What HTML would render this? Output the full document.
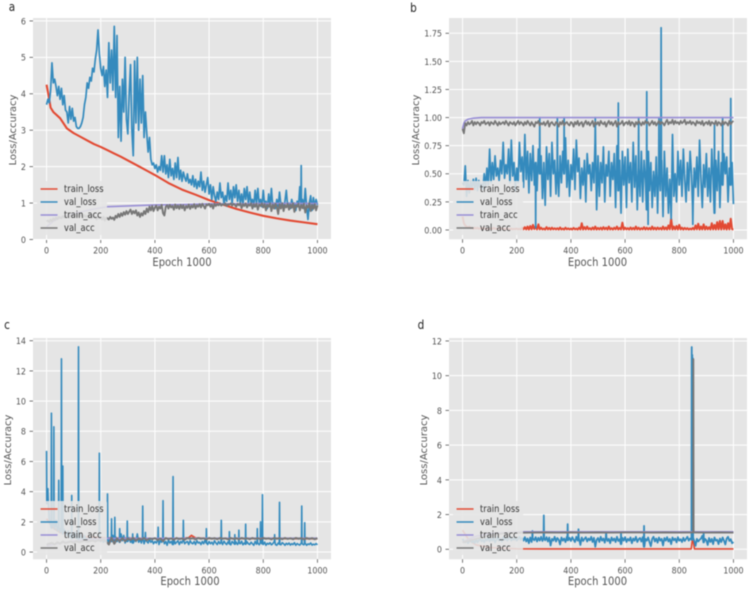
<!DOCTYPE html>
<html>
<head>
<meta charset="utf-8">
<title>Training curves</title>
<style>
html,body{margin:0;padding:0;background:#fff;}
body{width:750px;height:591px;overflow:hidden;}
svg{display:block;filter:blur(0.42px);font-family:"DejaVu Sans","Liberation Sans",sans-serif;}
</style>
</head>
<body>
<svg id="figure" xmlns="http://www.w3.org/2000/svg" width="750" height="591" viewBox="0 0 750 591"></svg>
<script>
/* ---------- shared labels ---------- */
const seriesNames = ["train_loss","val_loss","train_acc","val_acc"];
const xTicks = [0,200,400,600,800,1000];
const aTicks = [0,1,2,3,4,5,6];
const bTicks = [0,0.25,0.5,0.75,1,1.25,1.5,1.75];
const cTicks = [0,2,4,6,8,10,12,14];
const dTicks = [0,2,4,6,8,10,12];

/* ---------- panel a ---------- */
const aTrainLossEpochs = [0,5,10,15,25,50,75,100,125,150,175,200,225,250,275,300,325,350,375,400,425,450,475,500,550,600,650,700,750,800,850,900,950,1000];
const aTrainLoss = [4.25,4.05,3.85,3.62,3.5,3.33,3.05,2.92,2.82,2.72,2.62,2.54,2.45,2.36,2.27,2.17,2.07,1.97,1.87,1.77,1.66,1.55,1.46,1.37,1.23,1.08,0.96,0.84,0.74,0.65,0.58,0.52,0.47,0.42];
const aValLoss = [
3.7,3.85,3.75,4.1,4.85,4.3,4.4,4.2,3.95,4.2,
3.85,4.15,3.7,3.95,3.55,3.5,3.2,3.65,3.3,3.6,
3.25,3.35,3.1,3.05,3.05,3.1,3.2,3.35,3.7,3.9,
4.3,4.15,4.45,4.35,4.7,4.6,4.95,5.2,5.75,5.1,
4.7,4.5,4.75,4.2,4.65,3.9,5.4,4.3,5.2,4.1,
5.85,3.9,5.6,2.8,4.2,2.7,4.4,3.5,5.0,3.3,
2.9,4.0,4.8,3.0,2.3,4.9,3.2,5.0,3.0,4.4,
3.2,4.5,2.8,3.5,2.9,2.4,2.8,2.2,2.05,2.1,
1.95,2.05,1.85,2.0,1.9,2.3,1.85,2.3,1.8,2.05,
1.7,2.2,1.75,1.95,1.65,2.1,1.7,2.25,1.65,1.9,
1.6,1.85,1.7,1.6,1.8,1.55,1.65,1.5,1.75,1.45,
1.65,1.4,1.6,1.45,1.85,1.35,1.6,1.3,1.5,1.7,
1.25,1.5,1.1,1.45,1.2,1.05,1.3,1.1,1.55,1.15,
1.3,.98,1.2,1.05,1.55,1.1,1.35,1.0,1.45,1.15,
1.5,1.05,1.35,1.0,1.25,.95,1.4,1.1,1.45,.98,
1.3,1.0,1.1,.9,1.35,1.0,1.4,.95,1.1,.9,
1.35,.95,1.05,.85,1.25,.9,1.4,.9,1.0,.85,
1.1,.9,1.3,.95,1.0,.85,1.05,1.35,.9,1.0,
.85,1.1,.95,1.0,.8,1.05,.9,1.45,.95,1.1,
.85,1.4,.9,.55,1.0,1.2,.8,1.15,.9,1.1,
.95];
const aValLossSpikeEpochs = [940];
const aValLossSpikeValues = [2.03];
const aTrainAccEpochs = [0,25,50,100,150,200,225,300,400,500,600,700,800,1000];
const aTrainAcc = [0.35,0.5,0.6,0.7,0.8,0.87,0.9,0.92,0.95,0.96,0.98,0.98,0.99,0.99];
const aValAcc = [
.5,.52,.48,.55,.5,.58,.54,.6,.56,.62,
.6,.58,.64,.6,.66,.62,.65,.6,.68,.63,
.66,.7,.64,.68,.62,.66,.7,.6,.67,.62,
.65,.6,.68,.58,.66,.6,.63,.55,.62,.58,
.6,.55,.62,.52,.6,.58,.55,.62,.57,.6,
.54,.65,.6,.7,.62,.72,.65,.75,.68,.78,
.7,.76,.82,.7,.78,.72,.8,.66,.74,.62,
.72,.66,.78,.7,.85,.75,.9,.8,.92,.78,
.88,.93,.8,.9,.85,.95,.72,.66,.9,.94,
.85,.95,.88,.92,.82,.96,.86,.93,.84,.95,
.86,.94,.8,.92,.87,.96,.84,.93,.88,.97,
.85,.94,.9,.97,.88,.98,.92,.85,.96,.94,
.98,.9,.96,.85,.98,.92,.97,.94,.99,.93,
.97,.95,.99,.92,.97,.96,.99,.93,.98,.95,
.9,.98,.94,.99,.86,.97,.92,.99,.88,.96,
.93,.99,.85,.97,.9,.98,.82,.96,.92,.99,
.88,.97,.8,.95,.9,.99,.78,.96,.85,.98,
.9,.7,.97,.85,.99,.78,.95,.88,.98,.82,
.96,.87,.99,.76,.94,.9,.98,.8,.95,.86,
.98,.74,.93,.88,.99,.78,.95,.84,.97,.8,
.94];

/* ---------- panel b ---------- */
const bTrainLoss = [
.12,.06,.04,.03,.02,.03,.015,.02,.01,.02,
.012,.02,.01,.015,.008,.02,.01,.015,.008,.012,
.01,.015,.008,.02,.01,.012,.006,.02,.01,.015,
.008,.012,.006,.015,.01,.008,.012,.006,.01,.008,
.012,.006,.01,.004,.02,.006,.025,.005,.03,.004,
.035,.006,.045,.008,.03,.005,.05,.006,.02,.005,
.012,.004,.025,.005,.018,.004,.02,.006,.015,.005,
.015,.004,.022,.005,.012,.004,.02,.006,.014,.005,
.012,.004,.018,.006,.012,.004,.02,.005,.06,.004,
.025,.005,.03,.006,.016,.004,.022,.005,.03,.004,
.018,.005,.02,.004,.025,.006,.02,.004,.03,.005,
.016,.004,.02,.006,.03,.004,.018,.005,.065,.004,
.02,.006,.016,.004,.022,.005,.018,.004,.03,.005,
.02,.004,.016,.006,.025,.004,.02,.005,.018,.004,
.03,.005,.02,.004,.022,.006,.018,.004,.03,.005,
.022,.004,.04,.006,.1,.004,.03,.005,.035,.004,
.045,.005,.02,.004,.018,.006,.016,.004,.012,.005,
.018,.004,.04,.006,.055,.004,.03,.005,.05,.004,
.03,.006,.025,.004,.06,.005,.045,.004,.07,.005,
.08,.004,.08,.006,.05,.004,.06,.005,.1,.006,
.005];
const bValLoss = [
.42,.4,.57,.3,.44,.33,.43,.38,.45,.36,
.46,.35,.44,.38,.41,.36,.5,.38,.55,.4,
.72,.42,.6,.45,.66,.48,.55,.44,.62,.5,
.78,.46,.58,.5,.72,.42,.8,.48,.6,.35,
.55,.42,.78,.52,.65,.38,.85,.45,.7,.33,
.68,.44,.75,.4,.6,.35,.72,.5,.66,.28,
.6,.22,.74,.45,.68,.3,.78,.5,.62,.32,
.55,.3,.66,.42,.7,.5,.82,.38,.62,.3,
.58,.45,.72,.36,.8,.52,.64,.28,.55,.4,
.62,.25,.68,.5,.58,.35,.6,.42,.78,.18,
.66,.3,.6,.42,.74,.25,.58,.48,.7,.3,
.6,.45,.68,.2,.75,.35,.62,.15,.7,.4,
.65,.2,.72,.42,.6,.25,.78,.38,.66,.18,
.55,.3,.7,.25,.62,.45,.18,.7,.35,.6,
.2,.52,.3,.65,.15,.55,.35,.62,.12,.7,
.3,.55,.15,.45,.1,.85,.3,.5,.25,.7,
.4,.62,.3,.72,.45,.25,.6,.35,.7,.5,
.22,.55,.38,.65,.3,.8,.45,.2,.58,.38,
.68,.3,.55,.25,.72,.45,.15,.62,.35,.7,
.2,.6,.4,.68,.5,.65,.25,.55,.4,.6,
.23];
const bValLossSpikeEpochs = [270,285,350,375,490,575,650,680,685,725,733,850,930,960,990];
const bValLossSpikeValues = [0.02,1.0,1.0,1.0,1.0,1.13,1.0,1.23,0.05,1.0,1.8,0.05,0.95,1.0,1.17];
const bTrainAccEpochs = [0,5,10,20,40,70,200,400,600,800,1000];
const bTrainAcc = [0.9,0.95,0.97,0.985,0.995,1,1,1,1,1,1];
const bValAcc = [
.9,.86,.95,.93,.96,.94,.95,.97,.93,.96,
.94,.96,.95,.93,.96,.95,.97,.94,.95,.96,
.93,.96,.95,.94,.97,.95,.93,.96,.94,.95,
.96,.94,.97,.95,.93,.96,.95,.94,.96,.93,
.95,.97,.94,.96,.95,.93,.96,.94,.97,.95,
.93,.96,.94,.92,.96,.95,.97,.93,.95,.94,
.96,.93,.95,.97,.92,.95,.96,.94,.93,.96,
.95,.92,.96,.94,.97,.93,.95,.96,.94,.93,
.96,.95,.92,.96,.94,.97,.93,.95,.96,.92,
.95,.97,.94,.96,.93,.95,.97,.92,.96,.94,
.96,.93,.97,.95,.94,.96,.92,.95,.97,.94,
.96,.93,.95,.97,.92,.96,.94,.95,.97,.93,
.95,.96,.94,.97,.93,.96,.95,.92,.96,.94,
.97,.95,.93,.96,.94,.97,.95,.96,.93,.95,
.97,.94,.96,.93,.95,.97,.94,.96,.95,.93,
.96,.98,.94,.96,.95,.98,.94,.97,.95,.96,
.94,.97,.95,.96,.98,.94,.96,.95,.97,.94,
.96,.95,.93,.97,.95,.96,.94,.97,.93,.95,
.96,.94,.97,.93,.96,.95,.94,.97,.93,.96,
.95,.93,.97,.94,.96,.95,.93,.97,.94,.96,
.97];

/* ---------- panel c ---------- */
const cTrainLossEpochs = [0,25,50,100,150,200,225,300,400,500,525,535,550,600,800,1000];
const cTrainLoss = [2.2,1.6,1.3,1.1,1.0,0.95,0.93,0.92,0.9,0.9,0.95,1.1,0.93,0.9,0.9,0.88];
const cValLoss = [
3.2,3.5,2.2,1.8,1.6,1.9,1.5,2.1,1.4,1.7,
1.3,1.6,1.2,1.5,1.3,1.1,1.4,1.0,1.2,.9,
1.1,1.3,.9,1.0,.8,1.2,.9,.85,1.1,.8,
.9,.7,1.0,.8,.75,.9,.7,.85,.75,.8,
.7,.9,.65,.8,.7,.85,.6,.95,.7,1.1,
.6,1.0,.7,.9,.65,1.2,.75,1.1,.6,.9,
.7,.95,.65,.85,.6,.8,.7,1.2,.65,.85,
.6,.9,.55,.8,.7,.6,.85,.65,.75,.55,
.7,.6,.8,.5,.75,.65,.85,.55,.7,.45,
.8,.6,.7,.5,.85,.55,.65,.75,.5,.7,
.6,.8,.55,.65,.7,.5,.75,.6,.55,.7,
.5,.75,.6,.65,.5,.7,.55,.8,.6,.5,
.7,.55,.65,.5,.75,.6,.5,.7,.55,.65,
.5,.72,.58,.5,.68,.55,.48,.7,.6,.52,
.66,.5,.62,.55,.72,.48,.6,.52,.68,.55,
.5,.65,.55,.45,.7,.52,.6,.48,.62,.55,
.5,.66,.45,.58,.52,.62,.48,.55,.68,.5,
.45,.6,.52,.48,.62,.55,.45,.58,.5,.6,
.46,.55,.5,.62,.45,.56,.5,.46,.6,.52,
.48,.58,.45,.54,.5,.6,.46,.52,.48,.56,
.48];
const cValLossSpikeEpochs = [0,5,18,27,45,55,60,93,118,195,225,240,252,270,298,318,355,365,412,430,467,505,590,645,675,695,710,735,778,790,797,842,860,942,953];
const cValLossSpikeValues = [6.7,4.2,9.2,8.3,4.75,12.8,5.7,3.75,13.6,6.55,3.85,2.2,2.3,1.55,2.05,1.2,3.05,1.3,1.65,3.4,5.0,2.1,1.55,2.1,1.35,1.15,1.45,1.85,1.55,2.0,3.8,1.15,3.3,3.05,1.95];
const cTrainAccEpochs = [0,50,100,150,200,225,400,1000];
const cTrainAcc = [0.4,0.6,0.72,0.82,0.88,0.9,0.91,0.92];
const cValAcc = [
.5,.55,.6,.5,.65,.55,.7,.6,.65,.7,
.6,.72,.65,.7,.75,.68,.72,.78,.7,.8,
.75,.82,.7,.5,.95,.55,.9,.7,.92,.72,
.9,.8,.93,.75,.9,.82,.93,.78,.9,.85,
.92,.8,.9,.72,.93,.85,.9,.82,.93,.86,
.9,.82,.93,.88,.92,.84,.93,.88,.91,.84,
.93,.88,.92,.85,.93,.88,.91,.84,.93,.87,
.92,.85,.93,.88,.91,.85,.93,.87,.92,.85,
.93,.88,.91,.84,.93,.88,.92,.85,.93,.87,
.91,.85,.93,.88,.92,.84,.93,.87,.92,.85,
.92];

/* ---------- panel d ---------- */
const dTrainLossEpochs = [0,25,50,100,200,300,500,700,844,848,852,856,900,1000];
const dTrainLoss = [1.1,.5,.25,.1,.03,.02,.02,.02,.02,.5,.45,.02,.02,.02];
const dValLoss = [
.6,.45,.4,.5,.35,.45,.55,.4,.5,.35,
.6,.4,.5,.65,.45,.55,.4,.6,.5,.7,
.45,.6,.5,.65,.4,.55,.7,.5,.6,.45,
.7,.55,.65,.5,.6,.75,.5,.62,.55,.7,
.5,.6,.72,.55,.65,.5,.7,.45,.62,.35,
.68,.42,.62,.52,.7,.45,.66,.5,.72,.48,
.65,.52,.7,.45,.68,.22,.6,.5,.72,.45,
.65,.55,.28,.68,.5,.62,.42,.72,.52,.66,
.48,.7,.55,.42,.72,.5,.62,.25,.68,.48,
.6,.7,.45,.62,.52,.72,.42,.66,.15,.55,
.65,.42,.72,.5,.62,.38,.7,.48,.6,.35,
.68,.5,.62,.42,.72,.48,.58,.3,.66,.5,
.7,.42,.6,.5,.68,.35,.62,.5,.72,.42,
.58,.65,.45,.7,.15,.6,.5,.68,.42,.18,
.6,.72,.45,.62,.38,.68,.5,.6,.22,.65,
.5,.7,.45,.6,.3,.68,.52,.62,.4,.7,
.5,.58,.42,.66,.48,.6,.72,.5,.62,.55,
.68,.5,.2,.6,.45,.55,.62,.78,.4,.6,
.52,.25,.65,.42,.6,.3,.68,.5,.55,.3,
.62,.42,.68,.5,.28,.62,.72,.48,.58,.35,
.42];
const dValLossSpikeEpochs = [258,300,388,428,530,585,670,846,848,850,890];
const dValLossSpikeValues = [1.05,1.95,1.45,1.15,1.0,0.95,1.35,11.65,11.2,11.0,0.95];
const dTrainAccEpochs = [0,25,50,100,200,220,1000];
const dTrainAcc = [0.4,0.6,0.75,0.9,0.98,1,1];
const dValAcc = [.4,.6,.8,.92,.95,.96,.97,.96,.97,.96,.97,.96,.97,.97,.96,.97,.96,.97,.96,.97,.96];
const dValAccSpikeEpochs = [852];
const dValAccSpikeValues = [10.95];

/* ---------- drawing ---------- */
const NS = "http://www.w3.org/2000/svg";
const svg = document.getElementById("figure");
const colors = ["#E24A33","#348ABD","#988ED5","#777777"];
const TEXT_STRETCH = 1.15;

function make(tag, attrs, parent, text) {
  const el = document.createElementNS(NS, tag);
  for (const k in attrs) el.setAttribute(k, attrs[k]);
  if (text !== undefined) el.textContent = text;
  parent.appendChild(el);
  return el;
}
function stretched(parent, x, y, size, anchor, fill, str) {
  return make("text", {transform:"translate(" + x + " " + y + ") scale(1 " + TEXT_STRETCH + ")", "font-size":size, "text-anchor":anchor, fill:fill}, parent, str);
}
function even(values) {
  return values.map((v, i) => [i * 1000 / (values.length - 1), v]);
}
function paired(epochs, values) {
  return epochs.map((e, i) => [e, values[i]]);
}
function withSpikes(values, spikeEpochs, spikeValues) {
  const step = 1000 / (values.length - 1);
  let pts = even(values).filter(p => !spikeEpochs.some(e => Math.abs(p[0] - e) <= 1));
  spikeEpochs.forEach((e, i) => {
    const b = values[Math.round(e / step)];
    pts.push([e - 1, b], [e, spikeValues[i]], [e + 1, b]);
  });
  pts = pts.filter(p => p[0] >= 0 && p[0] <= 1000);
  return pts.sort((p, q) => p[0] - q[0]);
}

const panels = [
  {id:"a", left:33, width:298, top:18, bottom:239.5, yMin:0, yMax:6.08, ticks:aTicks, fmt:v=>String(v),
   letterX:12, letterY:11, yLabelX:16, yLabelY:130, xLabelX:182, xLabelY:266, legendTop:181, widths:[2.1,1.7,1.6,1.9],
   series:[paired(aTrainLossEpochs,aTrainLoss), withSpikes(aValLoss,aValLossSpikeEpochs,aValLossSpikeValues), paired(aTrainAccEpochs,aTrainAcc), even(aValAcc)]},
  {id:"b", left:449, width:298, top:18, bottom:239.3, yMin:-0.083, yMax:1.886, ticks:bTicks, fmt:v=>v.toFixed(2),
   letterX:413.5, letterY:12, yLabelX:419, yLabelY:130, xLabelX:597.5, xLabelY:266, legendTop:181, widths:[2,1.7,1.6,1.8],
   series:[even(bTrainLoss), withSpikes(bValLoss,bValLossSpikeEpochs,bValLossSpikeValues), paired(bTrainAccEpochs,bTrainAcc), even(bValAcc)]},
  {id:"c", left:33, width:298, top:338, bottom:559.3, yMin:-0.48, yMax:14.18, ticks:cTicks, fmt:v=>String(v),
   letterX:7, letterY:329, yLabelX:11, yLabelY:450, xLabelX:190, xLabelY:585, legendTop:501, widths:[1.8,1.6,1.6,2],
   series:[paired(cTrainLossEpochs,cTrainLoss), withSpikes(cValLoss,cValLossSpikeEpochs,cValLossSpikeValues), paired(cTrainAccEpochs,cTrainAcc), even(cValAcc)]},
  {id:"d", left:449, width:298, top:338, bottom:559.3, yMin:-0.576, yMax:12.17, ticks:dTicks, fmt:v=>String(v),
   letterX:421, letterY:329, yLabelX:427, yLabelY:450, xLabelX:597.5, xLabelY:585, legendTop:501, widths:[1.6,1.8,1.8,1.8],
   series:[paired(dTrainLossEpochs,dTrainLoss), withSpikes(dValLoss,dValLossSpikeEpochs,dValLossSpikeValues), paired(dTrainAccEpochs,dTrainAcc), withSpikes(dValAcc,dValAccSpikeEpochs,dValAccSpikeValues)]}
];

panels.forEach(p => {
  const xScale = e => p.left + (e + 50) / 1100 * p.width;
  const yScale = v => p.bottom - (v - p.yMin) / (p.yMax - p.yMin) * (p.bottom - p.top);

  const g = make("g", {}, svg);
  
  

  const letter = stretched(g, p.letterX, p.letterY, 10.5, "middle", "#222", p.id);
  
  

  const bg = make("rect", {x:p.left, y:p.top, width:p.width, height:p.bottom - p.top, fill:"#E5E5E5"}, g);
  
  

  xTicks.forEach(t => {
    const x = xScale(t);
    const grid = make("line", {x1:x, x2:x, y1:p.top, y2:p.bottom, stroke:"#fff", "stroke-width":1}, g);
    
    
    const tick = make("line", {x1:x, x2:x, y1:p.bottom, y2:p.bottom + 3.5, stroke:"#555", "stroke-width":0.8}, g);
    
    
    const label = stretched(g, x, p.bottom + 14, 8, "middle", "#555", String(t));
    
    
  });
  p.ticks.forEach(t => {
    const y = yScale(t);
    const grid = make("line", {x1:p.left, x2:p.left + p.width, y1:y, y2:y, stroke:"#fff", "stroke-width":1}, g);
    
    
    const tick = make("line", {x1:p.left - 3.5, x2:p.left, y1:y, y2:y, stroke:"#555", "stroke-width":0.8}, g);
    
    
    const label = stretched(g, p.left - 7, y + 3.4, 8, "end", "#555", p.fmt(t));
    
    
  });

  p.series.forEach((pts, i) => {
    const d = pts.map((q, j) => (j ? "L" : "M") + xScale(q[0]).toFixed(2) + " " + yScale(q[1]).toFixed(2)).join("");
    const line = make("path", {d:d, fill:"none", stroke:colors[i], "stroke-width":p.widths[i], "stroke-linejoin":"round"}, g);
    
    
  });

  const xTitle = stretched(g, p.xLabelX, p.xLabelY, 10, "middle", "#555", "Epoch 1000");
  
  
  const yTitle = make("text", {x:p.yLabelX, y:p.yLabelY, "font-size":10, "text-anchor":"middle", fill:"#555",
    transform:"rotate(-90 " + p.yLabelX + " " + p.yLabelY + ")"}, g, "Loss/Accuracy");
  
  

  const x0 = xScale(0);
  const legend = make("g", {}, g);
  
  
  const frame = make("rect", {x:x0 - 9.5, y:p.legendTop, width:70, height:54, rx:2, fill:"#E5E5E5", "fill-opacity":0.88}, legend);
  
  
  seriesNames.forEach((name, i) => {
    const y = p.legendTop + 8 + i * 13;
    const handle = make("line", {x1:x0 - 6, x2:x0 + 11, y1:y, y2:y, stroke:colors[i], "stroke-width":1.5}, legend);
    
    
    const entry = stretched(legend, x0 + 17.5, y + 3.2, 8.3, "start", "#333", name);
    
    
  });
});
</script>
</body>
</html>
